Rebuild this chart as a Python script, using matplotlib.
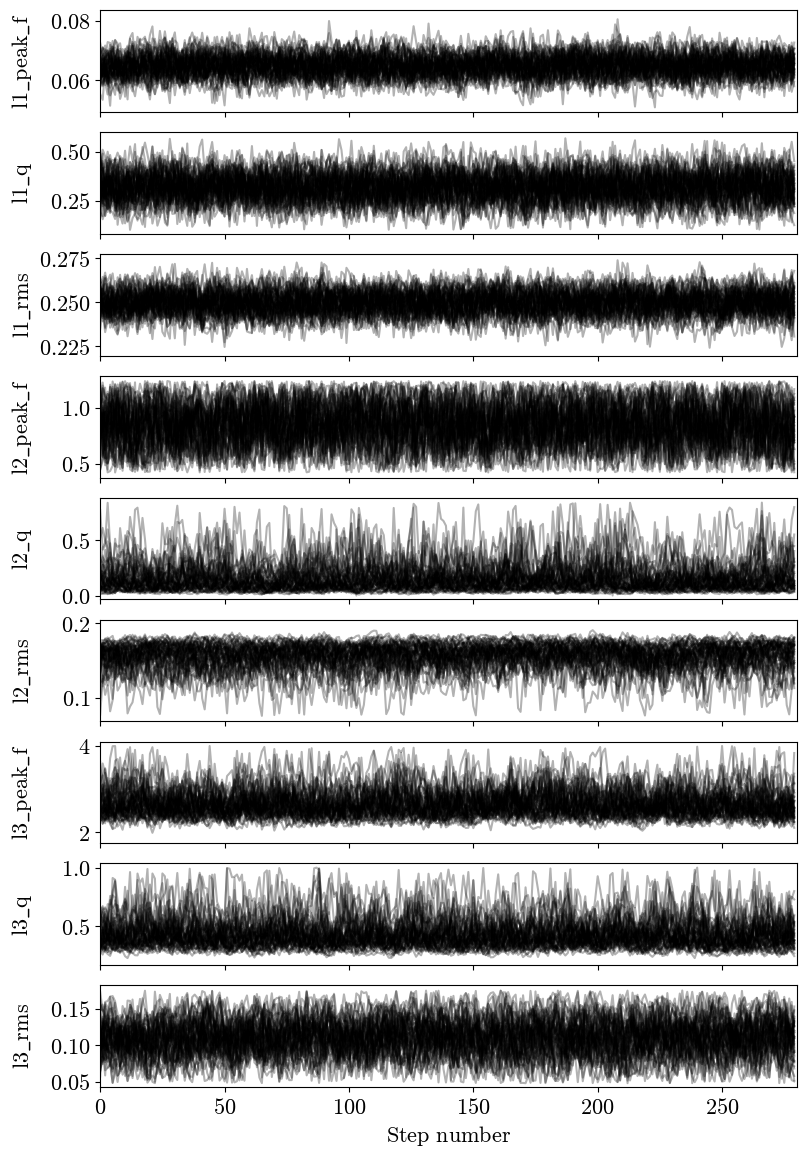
import numpy as np
import matplotlib
matplotlib.use("Agg")
import matplotlib.pyplot as plt
from matplotlib.ticker import FixedLocator, FuncFormatter

plt.rcParams["mathtext.fontset"] = "cm"
plt.rcParams["font.family"] = "serif"
plt.rcParams["font.serif"] = ["DejaVu Serif"]

# ---- data ----
labels = ["l1_peak_f", "l1_q", "l1_rms", "l2_peak_f", "l2_q", "l2_rms",
          "l3_peak_f", "l3_q", "l3_rms"]
n_steps = 280
n_walkers = 50
# typical level (centre) and spread of the walker cloud per parameter
centres = [0.065, 0.32, 0.250, 0.85, 0.11, 0.160, 2.60, 0.40, 0.110]
spreads = [0.0038, 0.075, 0.0070, 0.20, 0.75, 0.40, 0.38, 0.50, 0.025]
# "n" = symmetric, "up" = skewed upwards from a floor, "down" = skewed down from a ceiling
shapes = ["n", "n", "n", "n", "up", "down", "up", "up", "n"]
floors = [0.050, 0.10, 0.224, 0.42, 0.0, 0.075, 1.85, 0.20, 0.048]
ceilings = [0.082, 0.57, 0.274, 1.24, 0.84, 0.198, 4.00, 1.00, 0.175]
persistence = [0.45, 0.45, 0.45, 0.55, 0.75, 0.75, 0.65, 0.70, 0.65]
ylims = [(0.0494, 0.0835), (0.08, 0.60), (0.2195, 0.2775), (0.375, 1.285),
         (-0.035, 0.88), (0.068, 0.205), (1.75, 4.10), (0.17, 1.035),
         (0.043, 0.182)]
yticks = [[0.06, 0.08], [0.25, 0.50], [0.225, 0.250, 0.275], [0.5, 1.0],
          [0.0, 0.5], [0.1, 0.2], [2, 4], [0.5, 1.0], [0.05, 0.10, 0.15]]
ytick_fmt = ["{:.2f}", "{:.2f}", "{:.3f}", "{:.1f}", "{:.1f}", "{:.1f}",
             "{:.0f}", "{:.1f}", "{:.2f}"]
xticks = [0, 50, 100, 150, 200, 250]
xlabel = "Step number"

# ---- walker chains (the individual step values cannot be read; synthetic
#      chains matched to the level/spread/bounds read above) ----
rng = np.random.default_rng(7)


def chain(i):
    phi = persistence[i]
    z = np.empty((n_steps, n_walkers))
    z[0] = rng.standard_normal(n_walkers)
    e = rng.standard_normal((n_steps, n_walkers))
    for t in range(1, n_steps):
        z[t] = phi * z[t - 1] + np.sqrt(1 - phi ** 2) * e[t]
    c, s = centres[i], spreads[i]
    if shapes[i] == "n":
        v = c + s * z
    elif shapes[i] == "up":
        base = floors[i]
        v = base + (c - base) * np.exp(s * z)
    else:
        top = ceilings[i]
        v = top - (top - c) * np.exp(s * z)
    lo, hi = floors[i], ceilings[i]
    v = np.where(v < lo, 2 * lo - v, v)
    v = np.where(v > hi, 2 * hi - v, v)
    return np.clip(v, lo, hi)


fig, axes = plt.subplots(len(labels), 1, figsize=(8.08, 11.55), dpi=100,
                         sharex=True)
fig.subplots_adjust(left=0.124, right=0.986, top=0.991, bottom=0.059,
                    hspace=0.2)
steps = np.arange(n_steps)
for i, ax in enumerate(axes):
    ax.plot(steps, chain(i), "k", alpha=0.3, lw=1.5)
    ax.set_xlim(0, n_steps)
    ax.set_ylim(*ylims[i])
    ax.yaxis.set_major_locator(FixedLocator(yticks[i]))
    fmt = ytick_fmt[i]
    ax.yaxis.set_major_formatter(FuncFormatter(lambda v, p, f=fmt: "$" + f.format(v) + "$"))
    name = labels[i].replace("_", r"\_")
    ax.set_ylabel(r"$\mathrm{" + name + "}$", fontsize=16)
    ax.yaxis.set_label_coords(-0.095, 0.5)
    ax.tick_params(labelsize=16)
axes[-1].xaxis.set_major_locator(FixedLocator(xticks))
axes[-1].xaxis.set_major_formatter(FuncFormatter(lambda v, p: "$%d$" % v))
axes[-1].set_xlabel(r"$\mathrm{Step\ number}$", fontsize=16)
fig.savefig("out.png", dpi=100)
